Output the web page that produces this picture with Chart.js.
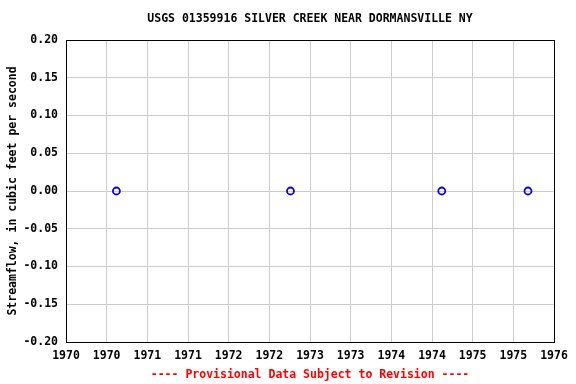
<!DOCTYPE html>
<html><head><meta charset="utf-8">
<script src="https://cdn.jsdelivr.net/npm/chart.js@4"></script>
<style>html,body{margin:0;padding:0;background:#fff}#wrap{width:576px;height:384px}</style>
</head><body><div id="wrap"><canvas id="c" width="576" height="384"></canvas></div>
<script>
const chartTitle = "USGS 01359916 SILVER CREEK NEAR DORMANSVILLE NY";
const yAxisTitle = "Streamflow, in cubic feet per second";
const footerText = "---- Provisional Data Subject to Revision ----";
const sampleYears = [1970.62, 1972.76, 1974.62, 1975.68];
const streamflow = [0.00, 0.00, 0.00, 0.00];
const xMin = 1970, xMax = 1976, xStep = 0.5;
const yMin = -0.20, yMax = 0.20, yStep = 0.05;

const FONT = "'DejaVu Sans Mono', monospace";
const points = sampleYears.map((x, i) => ({x: x, y: streamflow[i]}));

new Chart(document.getElementById('c'), {
  type: 'scatter',
  data: { datasets: [{
    data: points,
    showLine: false,
    pointStyle: 'circle',
    pointRadius: 3.5,
    pointBorderWidth: 1.8,
    pointBorderColor: '#0000ff',
    pointBackgroundColor: 'rgba(255,255,255,0)'
  }]},
  options: {
    responsive: false,
    animation: false,
    devicePixelRatio: 1,
    layout: { padding: { left: 0, right: 22, top: 40, bottom: 0 } },
    plugins: {
      legend: { display: false },
      tooltip: { enabled: false },
      title: { display: false },
      subtitle: { display: false }
    },
    scales: {
      x: {
        type: 'linear', min: xMin, max: xMax,
        afterFit: s => { s.height = 42; },
        ticks: { stepSize: xStep, autoSkip: false, maxRotation: 0, color: '#000', padding: 7,
          font: { family: FONT, size: 11.5, weight: 'bold' },
          callback: v => String(Math.floor(v)) },
        grid: { color: '#cccccc', drawTicks: false, lineWidth: 1 },
        border: { color: '#000', width: 1 }
      },
      y: {
        min: yMin, max: yMax,
        afterFit: s => { s.width = 66; },
        ticks: { stepSize: yStep, color: '#000', padding: 8,
          font: { family: FONT, size: 11.5, weight: 'bold' },
          callback: v => v.toFixed(2) },
        grid: { color: '#cccccc', drawTicks: false, lineWidth: 1 },
        border: { color: '#000', width: 1 },
        title: { display: true, text: yAxisTitle, color: '#000',
          font: { family: FONT, size: 11.5, weight: 'bold' }, padding: { top: 6, bottom: 0 } }
      }
    }
  },
  plugins: [{
    id: 'frameAndTexts',
    afterDraw(chart) {
      const a = chart.chartArea, ctx = chart.ctx;
      ctx.save(); ctx.strokeStyle = '#000'; ctx.lineWidth = 1;
      ctx.strokeRect(Math.round(a.left) + 0.5, Math.round(a.top) + 0.5,
        Math.round(a.right - a.left), Math.round(a.bottom - a.top));
      const cx = (a.left + a.right) / 2;
      ctx.font = "bold 11.5px " + FONT;
      ctx.textAlign = 'center'; ctx.textBaseline = 'middle';
      ctx.fillStyle = '#000';
      ctx.fillText(chartTitle, cx, 19.5);
      ctx.fillStyle = '#ff0000';
      ctx.fillText(footerText, cx, 375.5);
      ctx.restore();
    }
  }]
});
</script></body></html>
